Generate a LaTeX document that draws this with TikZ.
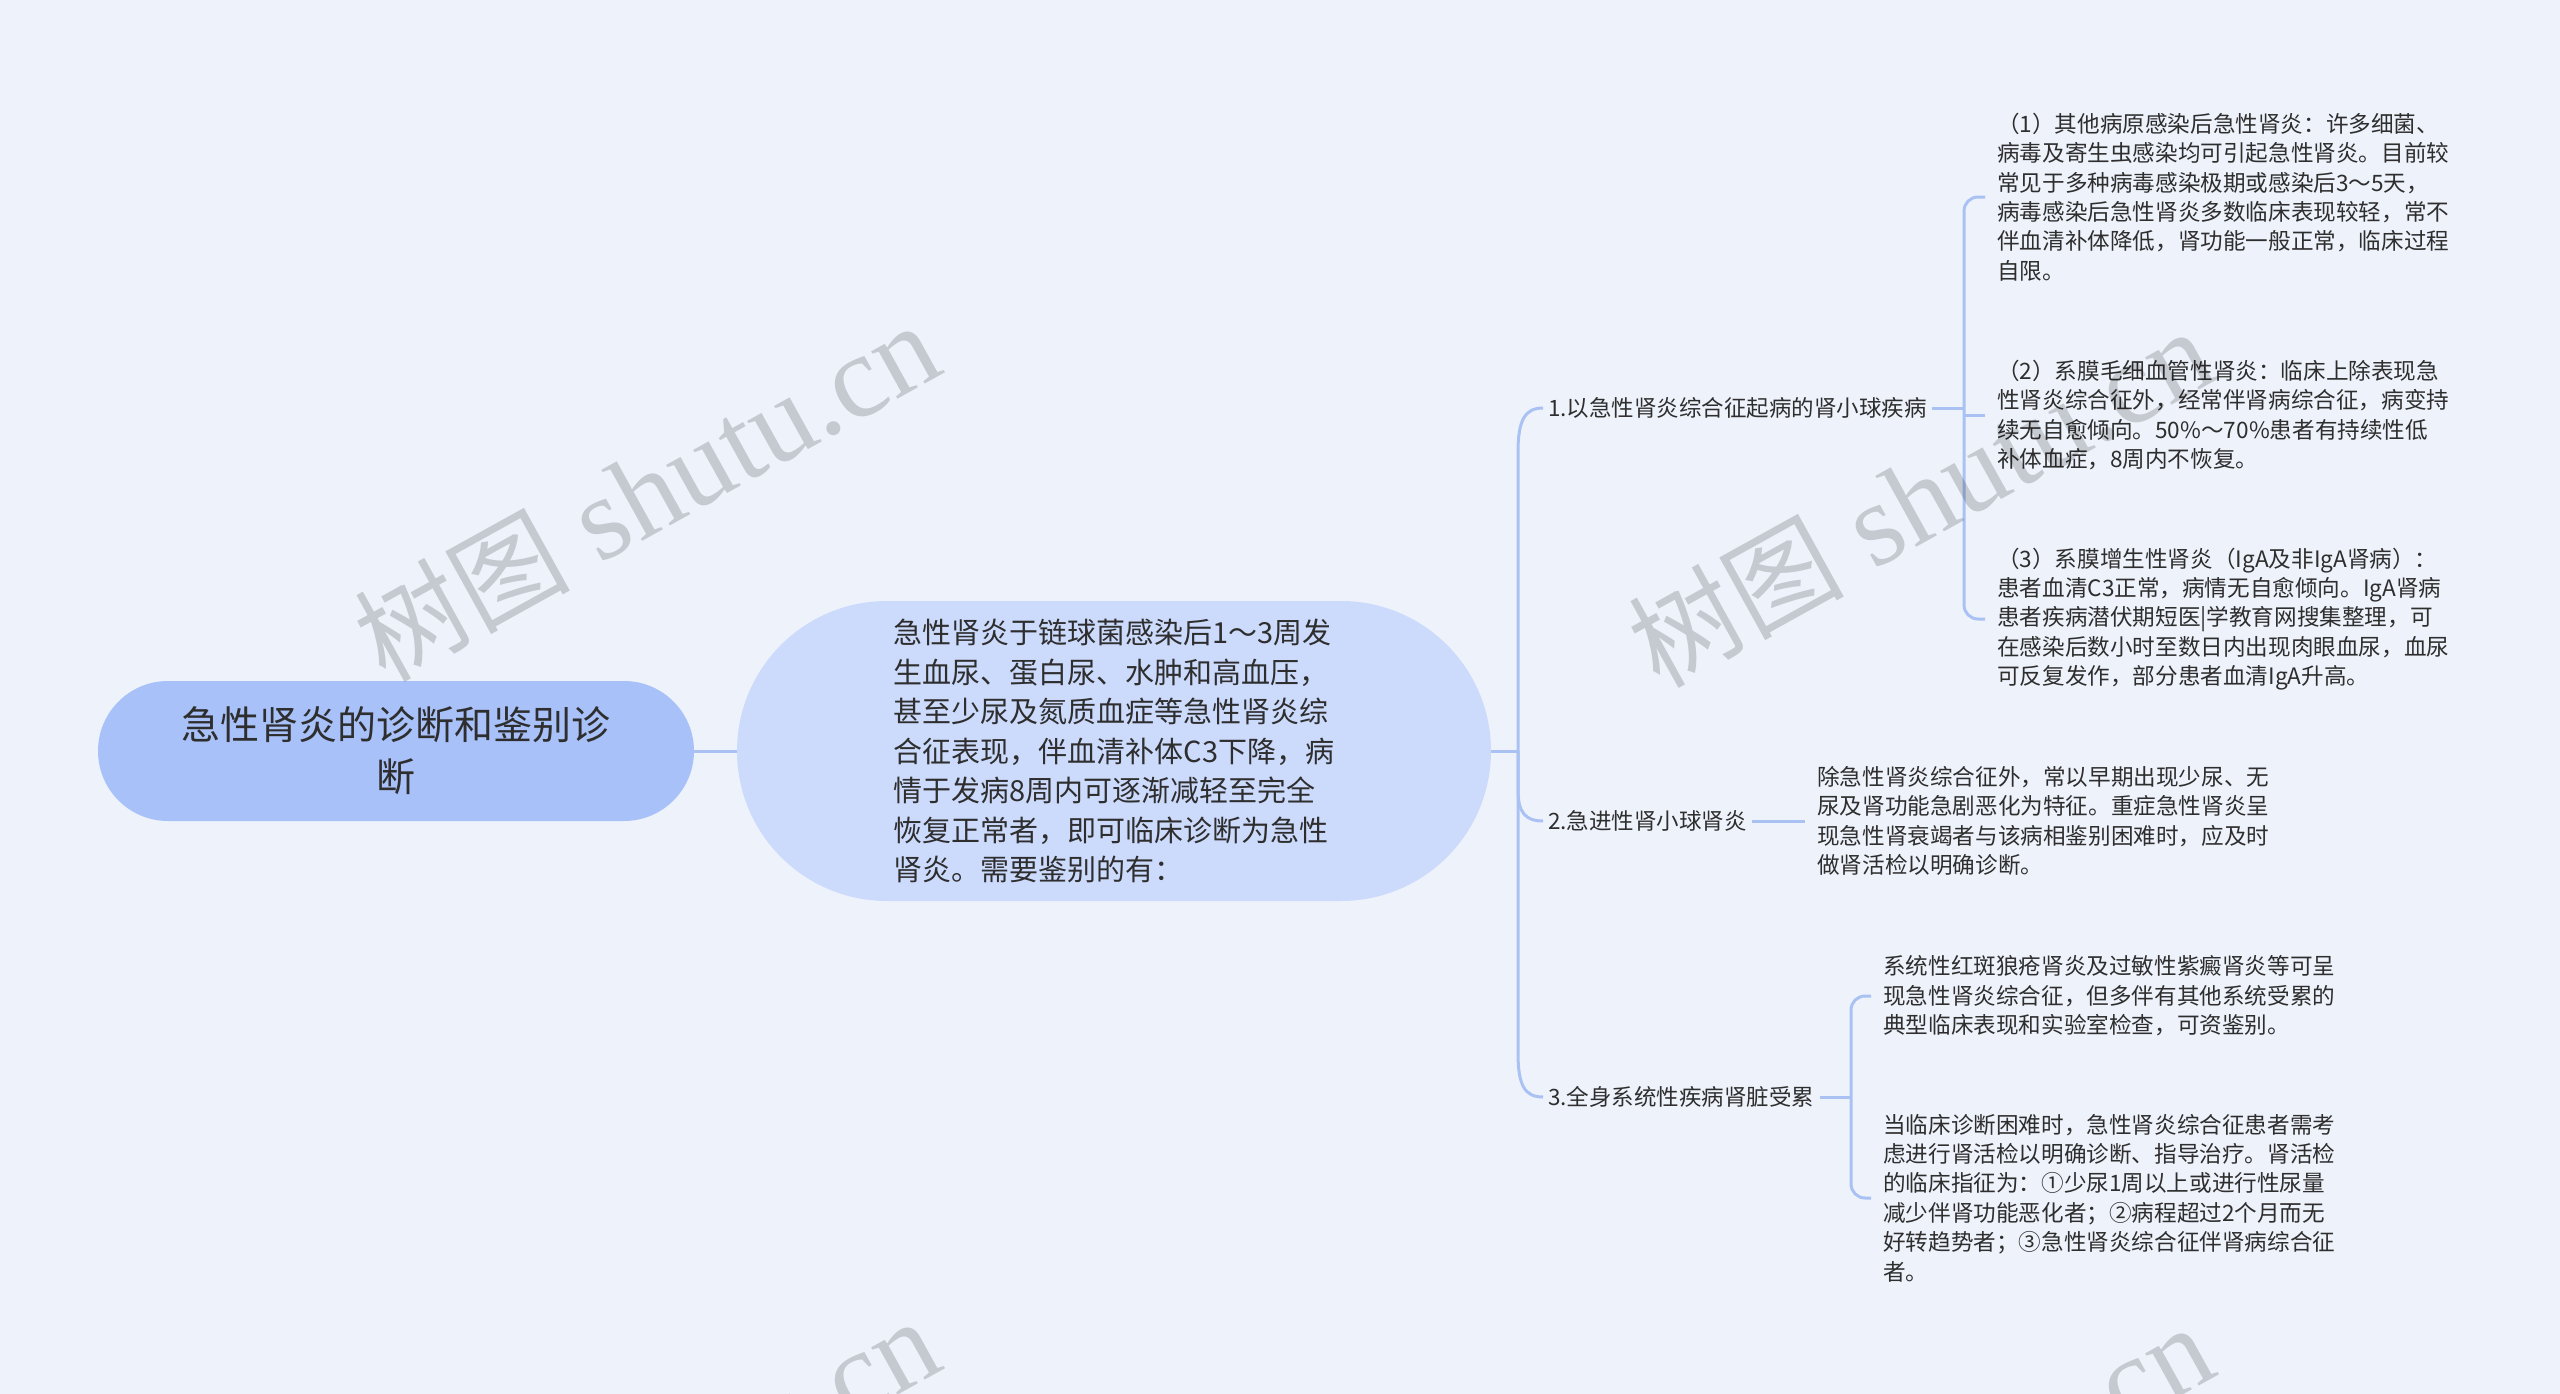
\documentclass[tikz,border=0pt]{standalone}
\usepackage{fontspec}
\setmainfont{Noto Sans CJK SC}
\newfontfamily\wmlatin{Liberation Serif}
\newfontfamily\wmcjk{Noto Sans CJK SC}
\definecolor{bgc}{HTML}{EEF2FB}
\definecolor{rootc}{HTML}{A8C1F9}
\definecolor{midc}{HTML}{CCDAFC}
\definecolor{linec}{HTML}{A9C2F3}
\definecolor{txtc}{HTML}{2E2E2E}
\newcommand{\wmtext}{{\wmcjk\fontsize{108}{108}\selectfont 树图}{\wmlatin\fontsize{118}{118}\selectfont\ shutu.cn}}
\begin{document}
\begin{tikzpicture}[x=1pt,y=-1pt,
  rootbox/.style={fill=rootc, rounded corners=70pt, minimum width=596pt, minimum height=140pt,
    align=center, inner sep=0pt, text=txtc, font=\fontsize{39}{52}\selectfont},
  midbox/.style={fill=midc, rounded corners=150pt, minimum width=754pt, minimum height=300pt,
    align=left, inner sep=0pt, text=txtc, font=\fontsize{29}{39.5}\selectfont},
  lbl/.style={anchor=west, inner xsep=5pt, inner ysep=0pt, text=txtc, font=\fontsize{22.5}{29.4}\selectfont},
  leaf/.style={anchor=west, align=left, inner xsep=12pt, inner ysep=0pt, text=txtc, font=\fontsize{22.6}{29.4}\selectfont},
  link/.style={draw=linec, line width=3pt},
  wm/.style={rotate=29, anchor=base east, inner sep=0pt, text=black, text opacity=0.17}
]
\fill[bgc] (0,0) rectangle (2560,1394);
\useasboundingbox (0,0) rectangle (2560,1394);

% main nodes
\node[rootbox] (root) at (396,751) {急性肾炎的诊断和鉴别诊\\断};
\node[midbox] (mid) at (1114,751) {急性肾炎于链球菌感染后1～3周发\\生血尿、蛋白尿、水肿和高血压，\\甚至少尿及氮质血症等急性肾炎综\\合征表现，伴血清补体C3下降，病\\情于发病8周内可逐渐减轻至完全\\恢复正常者，即可临床诊断为急性\\肾炎。需要鉴别的有：};

% branch labels
\node[lbl] (b1) at (1543,408) {1.以急性肾炎综合征起病的肾小球疾病};
\node[lbl] (b2) at (1543,821) {2.急进性肾小球肾炎};
\node[lbl] (b3) at (1543,1097) {3.全身系统性疾病肾脏受累};

% leaves
\node[leaf] (c1) at (1985,197) {（1）其他病原感染后急性肾炎：许多细菌、\\病毒及寄生虫感染均可引起急性肾炎。目前较\\常见于多种病毒感染极期或感染后3～5天，\\病毒感染后急性肾炎多数临床表现较轻，常不\\伴血清补体降低，肾功能一般正常，临床过程\\自限。};
\node[leaf] (c2) at (1985,415) {（2）系膜毛细血管性肾炎：临床上除表现急\\性肾炎综合征外，经常伴肾病综合征，病变持\\续无自愈倾向。50\%～70\%患者有持续性低\\补体血症，8周内不恢复。};
\node[leaf] (c3) at (1985,619) {（3）系膜增生性肾炎（IgA及非IgA肾病）：\\患者血清C3正常，病情无自愈倾向。IgA肾病\\患者疾病潜伏期短医|学教育网搜集整理，可\\在感染后数小时至数日内出现肉眼血尿，血尿\\可反复发作，部分患者血清IgA升高。};
\node[leaf] (c4) at (1805,821) {除急性肾炎综合征外，常以早期出现少尿、无\\尿及肾功能急剧恶化为特征。重症急性肾炎呈\\现急性肾衰竭者与该病相鉴别困难时，应及时\\做肾活检以明确诊断。};
\node[leaf] (c5) at (1871,996) {系统性红斑狼疮肾炎及过敏性紫癜肾炎等可呈\\现急性肾炎综合征，但多伴有其他系统受累的\\典型临床表现和实验室检查，可资鉴别。};
\node[leaf] (c6) at (1871,1198) {当临床诊断困难时，急性肾炎综合征患者需考\\虑进行肾活检以明确诊断、指导治疗。肾活检\\的临床指征为：①少尿1周以上或进行性尿量\\减少伴肾功能恶化者；②病程超过2个月而无\\好转趋势者；③急性肾炎综合征伴肾病综合征\\者。};

% connectors
\draw[link] (root.east) -- (mid.west);
\coordinate (t) at (1518,751);
\draw[link] (mid.east) -- (t);
\draw[link] (t) -- (1518,452) .. controls (1518,420) and (1525,408) .. (b1.west);
\draw[link] (t) -- (1518,790) .. controls (1518,812) and (1525,821) .. (b2.west);
\draw[link] (t) -- (1518,1053) .. controls (1518,1086) and (1525,1097) .. (b3.west);

\coordinate (k1) at (1964,408);
\draw[link] (b1.east) -- (k1);
\draw[link, rounded corners=14pt] (c1.west) -| (k1) |- (c3.west);
\draw[link] (k1 |- c2.west) -- (c2.west);

\draw[link] (b2.east) -- (c4.west);

\coordinate (k3) at (1851,1097);
\draw[link] (b3.east) -- (k3);
\draw[link, rounded corners=14pt] (c5.west) -| (k3) |- (c6.west);

% watermarks
\node[wm] (w1) at (947,372) {\wmtext};
\node[wm] (w2) at (2221,378) {\wmtext};
\node[wm] (w3) at (947,1368) {\wmtext};
\node[wm] (w4) at (2221,1374) {\wmtext};
\end{tikzpicture}
\end{document}
